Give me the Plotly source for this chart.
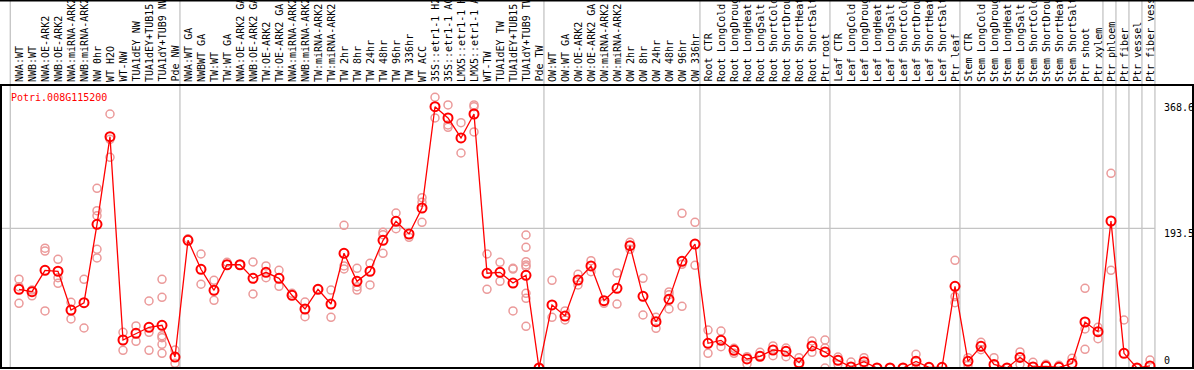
import plotly.graph_objects as go

title_text = "Potri.008G115200"

categories = [
    "NWA:WT", "NWB:WT", "NWA:OE-ARK2", "NWB:OE-ARK2", "NWA:miRNA-ARK2", "NWB:miRNA-ARK2",
    "NW 0hr", "WT H2O", "WT-NW", "TUA1dEY NW", "TUA1dEY+TUB15", "TUA1dY+TUB9 NW", "Pde NW",
    "NWA:WT GA", "NWBWT GA", "TW:WT", "TW:WT GA", "NWA:OE-ARK2 GA", "NWB:OE-ARK2 GA",
    "TW:OE-ARK2", "TW:OE-ARK2 GA", "NWA:miRNA-ARK2", "NWB:miRNA-ARK2", "TW:miRNA-ARK2",
    "TW:miRNA-ARK2", "TW 2hr", "TW 8hr", "TW 24hr", "TW 48hr", "TW 96hr", "TW 336hr",
    "WT ACC", "35S::etr1-1 H2O", "35S::etr1-1 ACC", "LMX5::etr1-1 H2O", "LMX5::etr1-1 ACC",
    "WT-TW", "TUA1dEY TW", "TUA1dEY+TUB15", "TUA1dY+TUB9 TW", "Pde TW",
    "OW:WT", "OW:WT GA", "OW:OE-ARK2", "OW:OE-ARK2 GA", "OW:miRNA-ARK2", "OW:miRNA-ARK2",
    "OW 2hr", "OW 8hr", "OW 24hr", "OW 48hr", "OW 96hr", "OW 336hr",
    "Root CTR", "Root LongCold", "Root LongDrought", "Root LongHeat", "Root LongSalt",
    "Root ShortCold", "Root ShortDrought", "Root ShortHeat", "Root ShortSalt", "Ptr root",
    "Leaf CTR", "Leaf LongCold", "Leaf LongDrought", "Leaf LongHeat", "Leaf LongSalt",
    "Leaf ShortCold", "Leaf ShortDrought", "Leaf ShortHeat", "Leaf ShortSalt", "Ptr leaf",
    "Stem CTR", "Stem LongCold", "Stem LongDrought", "Stem LongHeat", "Stem LongSalt",
    "Stem ShortCold", "Stem ShortDrought", "Stem ShortHeat", "Stem ShortSalt",
    "Ptr shoot", "Ptr xylem", "Ptr phloem", "Ptr fiber", "Ptr vessel", "Ptr fiber vessel",
]

mean_values = [
    109, 105.7, 135.3, 134, 80.3, 90.4, 199, 320.4, 38.8, 48, 56.4, 59.1, 15.2,
    176.9, 136.7, 107.6, 143, 143, 124.2, 132.5, 124.2, 100.7, 81.7, 109, 88.6,
    158.9, 120, 134, 176.9, 203.2, 185.6, 221.6, 361.9, 346.3, 318.6, 351.8,
    131.2, 132.5, 117.7, 128.4, 0,
    87.3, 72, 121.9, 141.3, 93.2, 110.4, 169.4, 99.3, 64.1, 95.1, 147.8, 171.7,
    34.2, 38.3, 24.5, 12.5, 16.2, 24.9, 23.1, 7.4, 30.5, 22.2,
    10.6, 1.4, 8.8, 0, 0, 0, 9.2, 1, 1, 113.1,
    9.2, 30, 5, 0, 14.7, 1.4, 2.3, 1, 6.4,
    63.7, 50.3, 203.6, 20.3, 0, 2.8,
]

replicate_values = [
    [123, 112.6, 89.6], [108, 100], [166, 162, 79], [150.5, 117.3, 125], [91, 67.9],
    [122.8, 55.4], [248.9, 217.9, 211, 164.4, 152.4], [351.8, 316.7, 291.8], [49.4, 24.5],
    [58.2, 37], [92.8, 49.4, 24.5], [122.8, 97.9, 44.7, 42, 32.8, 20.3], [24.9, 6.5],
    [179], [157.9, 116], [121.5, 93.7], [146.4], [143], [146.8, 102.5], [141.3, 125],
    [135.3, 113.2], [103.4], [91.4, 71.1], [109], [108, 70.2], [197.6, 141.3, 137.1],
    [138, 112.6, 108], [145, 115], [188, 184.6, 158.9], [214.7, 193], [181],
    [235.9, 229.5, 201.8], [375, 346.3], [364.3, 336.6, 333.4], [339.8, 297.8],
    [364.3, 362, 326.9], [157.9, 109], [146.4, 120], [138, 137, 79],
    [184.2, 167.2, 147.2, 142.7, 140.3, 103.4, 96.5, 57.7], [0],
    [121.5, 70.2], [79, 66.5], [129.8, 115], [148.6, 133.4], [89.6], [131.6, 88.6],
    [174, 164.4], [124.2, 73.4], [70.2, 55], [105.3, 101.5, 81.7], [214.3, 143.6, 85.4],
    [201.8, 142.2],
    [52.6, 20.3], [51.2, 29.5], [27.3, 20.3], [15.7, 5.5], [21.7, 17], [30.5, 17],
    [27.7, 15.7], [14.3, 3.7], [37.4, 21.7], [38.8, 27.7, 0],
    [15.2, 5.1], [8.3], [14.3, 5.1], [0], [0], [0], [19, 0], [1], [1], [149.2, 98.8, 90.4],
    [14.3, 3.7], [35.6, 25.4], [14.3], [0], [22.2, 5.1], [7.9], [5.1], [3.7], [13.4],
    [110.4, 54, 25.9], [56.4, 40.6], [269.7, 135.3], [66.5], [0], [11.1],
]

ytick_values = [368.6, 193.5, 0]
ytick_labels = ["368.6", "193.5", "0"]
group_last_index = [12, 40, 52, 62, 72, 83, 84, 85, 86, 87]
grid_value = 193.5

W, H = 1194, 370
FONT = "DejaVu Sans Mono"
n = len(categories)
xs = list(range(n))

rep_x, rep_y = [], []
for i, reps in enumerate(replicate_values):
    for v in reps:
        rep_x.append(i)
        rep_y.append(v)

fig = go.Figure()
fig.add_trace(go.Scatter(
    x=rep_x, y=rep_y, mode="markers",
    marker=dict(symbol="circle-open", size=8, color="#eb9a9a", line=dict(width=1.5, color="#eb9a9a")),
    hoverinfo="skip", showlegend=False,
))
fig.add_trace(go.Scatter(
    x=xs, y=mean_values, mode="lines+markers",
    line=dict(color="#ff0000", width=1.3),
    marker=dict(symbol="circle-open", size=9, color="#ff0000", line=dict(width=2, color="#ff0000")),
    text=categories, showlegend=False,
))

px_per_cat = 13.0
first_px = 19.0
x_min = -first_px / px_per_cat
x_max = (W - first_px) / px_per_cat

plot_top_px = 85
plot_bot_px = 368
dom_bot = (H - plot_bot_px) / H
dom_top = (H - plot_top_px) / H
y_top_val = (plot_bot_px - plot_top_px) / 0.722

shapes = []
grid_color = "#c4c4c4"
vlines = [-0.67] + [g + 0.38 for g in group_last_index]
for xv in vlines:
    shapes.append(dict(type="line", xref="x", yref="paper", x0=xv, x1=xv, y0=dom_bot, y1=1,
                       line=dict(color=grid_color, width=1.3), layer="below"))
shapes.append(dict(type="line", xref="paper", yref="y", x0=0, x1=1155 / W, y0=grid_value, y1=grid_value,
                   line=dict(color=grid_color, width=1.3), layer="below"))
black = dict(color="black", width=2)
shapes.append(dict(type="line", xref="paper", yref="paper", x0=0, x1=1, y0=1 - 0.5 / H, y1=1 - 0.5 / H, line=black))
shapes.append(dict(type="line", xref="paper", yref="paper", x0=0, x1=1, y0=dom_top, y1=dom_top, line=black))
shapes.append(dict(type="line", xref="paper", yref="paper", x0=0, x1=1, y0=dom_bot, y1=dom_bot, line=black))
shapes.append(dict(type="line", xref="paper", yref="paper", x0=1 / W, x1=1 / W, y0=dom_bot, y1=dom_top, line=black))
shapes.append(dict(type="line", xref="paper", yref="paper", x0=1193 / W, x1=1193 / W, y0=dom_bot, y1=dom_top, line=black))

annotations = []
label_base = (H - 84) / H
for i, c in enumerate(categories):
    annotations.append(dict(x=i, y=label_base, xref="x", yref="paper", text=c, textangle=-90,
                            showarrow=False, xanchor="center", yanchor="bottom",
                            font=dict(family=FONT, size=10, color="black")))
for v, t in zip(ytick_values, ytick_labels):
    annotations.append(dict(x=1162 / W, y=v, xref="paper", yref="y", text=t, showarrow=False,
                            xanchor="left", yanchor="bottom" if v == 0 else "top",
                            yshift=0 if v == 0 else 2,
                            font=dict(family=FONT, size=10, color="black")))
annotations.append(dict(x=9 / W, y=(H - 97) / H, xref="paper", yref="paper", text=title_text,
                        showarrow=False, xanchor="left", yanchor="middle",
                        font=dict(family=FONT, size=10, color="#ff0000")))

fig.update_layout(
    width=W, height=H, margin=dict(l=0, r=0, t=0, b=0),
    paper_bgcolor="white", plot_bgcolor="white",
    xaxis=dict(range=[x_min, x_max], domain=[0, 1], showgrid=False, zeroline=False,
               showticklabels=False, ticks="", fixedrange=True),
    yaxis=dict(range=[0, y_top_val], domain=[dom_bot, dom_top], showgrid=False, zeroline=False,
               showticklabels=False, ticks="", fixedrange=True),
    shapes=shapes, annotations=annotations, showlegend=False,
)

fig.write_html("out.html", config={"displayModeBar": False},
               post_script="document.body.style.margin='0';")
